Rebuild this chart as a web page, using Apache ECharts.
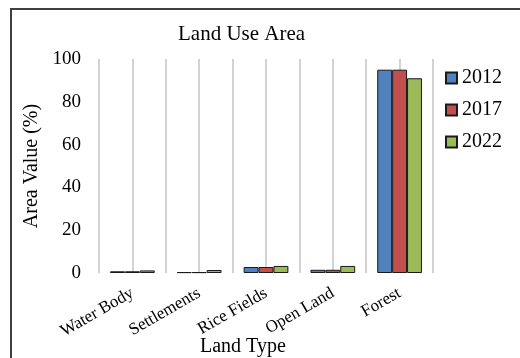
<!DOCTYPE html>
<html>
<head>
<meta charset="utf-8">
<script src="https://cdn.jsdelivr.net/npm/echarts@6/dist/echarts.min.js"></script>
<style>
    html, body { margin: 0; padding: 0; background: #ffffff; }
    #chart { width: 520px; height: 358px; }
</style>
</head>
<body>
<div id="chart"></div>
<script>
var categories = ['Water Body', 'Settlements', 'Rice Fields', 'Open Land', 'Forest'];
var years = ['2012', '2017', '2022'];
var values2012 = [0.8, 0.4, 2.8, 1.5, 95];
var values2017 = [0.8, 0.4, 2.8, 1.5, 95];
var values2022 = [1.2, 1.4, 3.3, 3.3, 91];
var yTicks = { min: 0, max: 100, interval: 20 };
var colors = ['#4f81bd', '#c0504d', '#9bbb59'];

var serif = '"Liberation Serif", "DejaVu Serif", serif';
var seriesValues = [values2012, values2017, values2022];

var series = [];
for ( var i = 0; i < years.length; i++ ) {
    series.push( {
        name: years[i],
        type: 'bar',
        xAxisIndex: 0,
        barGap: '0%',
        barCategoryGap: '33%',
        itemStyle: {
            color: colors[i],
            borderColor: '#1a1a1a',
            borderWidth: 1
        },
        data: seriesValues[i]
    } )
}

var config = {
    animation: false,
    textStyle: { fontFamily: serif, color: '#000' },
    // outer frame of the original figure
    graphic: [{
        type: 'rect',
        shape: { x: 11, y: 9, width: 600, height: 400 },
        style: { fill: 'none', stroke: '#404040', lineWidth: 2 },
        silent: true
    }],
    title: [{
        text: 'Land Use Area',
        left: 178,
        top: 24,
        padding: 0,
        textStyle: { fontFamily: serif, fontSize: 21, fontWeight: 'normal', color: '#000' }
    }, {
        text: 'Land Type',
        left: 200,
        top: 337,
        padding: 0,
        textStyle: { fontFamily: serif, fontSize: 20, fontWeight: 'normal', color: '#000' }
    }],
    legend: {
        orient: 'vertical',
        left: 445,
        top: 68,
        padding: 0,
        itemWidth: 11,
        itemHeight: 11,
        itemGap: 12,
        icon: 'rect',
        textStyle: { fontFamily: serif, fontSize: 20, color: '#000', padding: [0, 0, 0, 0] },
        data: years
    },
    grid: {
        left: 99,
        right: 87,
        top: 59,
        bottom: 85,
        containLabel: false
    },
    xAxis: [{
        type: 'category',
        data: categories,
        axisLine: { show: false },
        axisTick: { show: false },
        splitLine: { show: false },
        axisLabel: {
            rotate: 30,
            margin: 19,
            fontFamily: serif,
            fontSize: 17,
            color: '#000',
            interval: 0
        }
    }, {
        // hidden helper axis: gridlines at category edges and centres
        type: 'value',
        min: 0,
        max: categories.length,
        interval: 0.5,
        position: 'bottom',
        axisLine: { show: false },
        axisTick: { show: false },
        axisLabel: { show: false },
        splitLine: { show: true, lineStyle: { color: '#c4c4c4', width: 1.5 } }
    }],
    yAxis: {
        type: 'value',
        min: yTicks.min,
        max: yTicks.max,
        interval: yTicks.interval,
        name: 'Area Value (%)',
        nameLocation: 'middle',
        nameGap: 52,
        nameTextStyle: { fontFamily: serif, fontSize: 20, color: '#000' },
        axisLine: { show: false },
        axisTick: { show: false },
        splitLine: { show: false },
        axisLabel: { margin: 18, fontFamily: serif, fontSize: 19, color: '#000' }
    },
    series: series
};

var Chart = echarts.init( document.getElementById( 'chart' ) );
Chart.setOption( config );
</script>
</body>
</html>
